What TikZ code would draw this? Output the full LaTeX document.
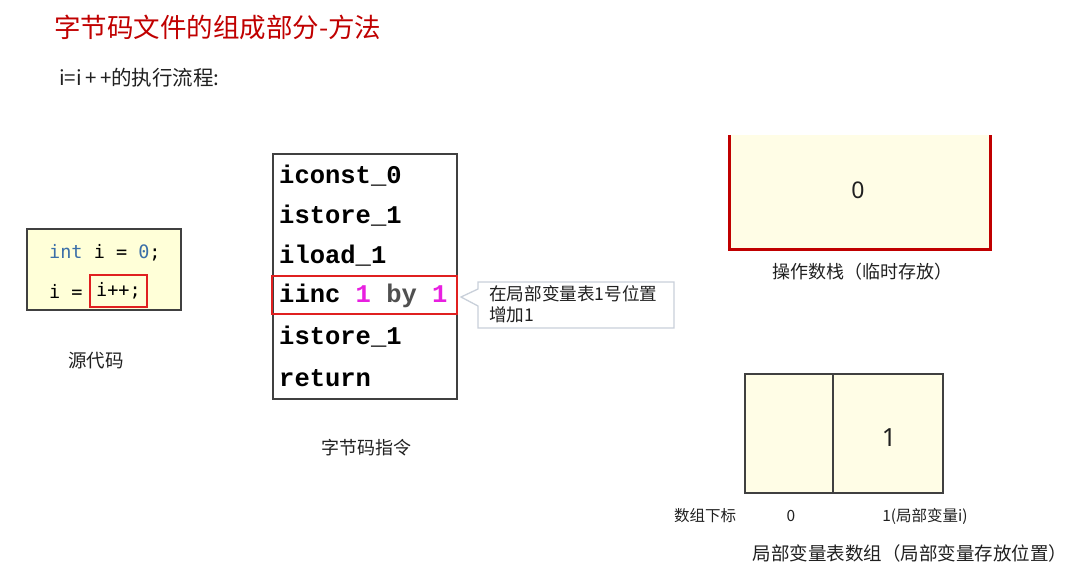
\documentclass[tikz,border=0pt]{standalone}
\usepackage{fontspec}
\setmainfont{Noto Sans CJK SC}
\newfontfamily\codefont{Liberation Mono}
\newfontfamily\srcfont{DejaVu Sans Mono}
\newfontfamily\digitfont{Noto Sans}
\definecolor{titlered}{HTML}{C00000}
\definecolor{stackred}{HTML}{C00000}
\definecolor{boxred}{HTML}{E02020}
\definecolor{paleyellow}{HTML}{FFFDE6}
\definecolor{srcyellow}{HTML}{FFFFD8}
\definecolor{kwblue}{HTML}{3B6FA8}
\definecolor{magentanum}{HTML}{E81FE0}
\definecolor{bygray}{HTML}{505050}
\definecolor{callgray}{HTML}{C9D0DA}
\definecolor{frame}{HTML}{404040}
\definecolor{txt}{HTML}{202020}
\tikzset{
  lbl/.style={font=\fontsize{18}{21}\selectfont, text=txt, inner sep=0pt},
  small/.style={font=\fontsize{15.5}{18}\selectfont, text=txt, inner sep=0pt},
  code/.style={font=\codefont\bfseries\fontsize{25.5}{28}\selectfont, anchor=west, inner sep=0pt, text=black},
  src/.style={font=\srcfont\fontsize{18.5}{22}\selectfont, anchor=west, inner sep=0pt, text=black},
  big/.style={font=\digitfont\fontsize{25}{28}\selectfont, text=txt, inner sep=0pt},
}
\begin{document}
\begin{tikzpicture}[x=1pt,y=-1pt]
\useasboundingbox (0,0) rectangle (1078,573);
% title
\node[anchor=west, inner sep=0pt, text=titlered, font=\fontsize{26.5}{30}\selectfont] (title) at (54,27) {字节码文件的组成部分-方法};
\node[anchor=west, inner sep=0pt, text=txt, font=\fontsize{20.5}{24}\selectfont] (sub) at (59,78) {i=i\,+\,+的执行流程:};
% source code box
\draw[frame, line width=1.4pt, fill=srcyellow] (27,229) rectangle (181,310);
\node[src] (l1) at (49,253) {{\color{kwblue}int} i = {\color{kwblue}0};};
\node[src] (l2) at (49,291) {i =};
\node[src, anchor=center, draw=boxred, line width=1.6pt, minimum width=57pt, minimum height=32pt] (ipp) at (118.5,291) {i++;};
\node[lbl, font=\fontsize{18.5}{21}\selectfont] (srclbl) at (96,361) {源代码};
% bytecode box
\draw[frame, line width=1.3pt, fill=white] (273,154) rectangle (457,399);
\node[code] (b1) at (279,176) {iconst\_0};
\node[code] (b2) at (279,216) {istore\_1};
\node[code] (b3) at (279,256) {iload\_1};
\node[code] (b4) at (279,296) {iinc {\color{magentanum}1} {\color{bygray}by} {\color{magentanum}1}};
\node[code] (b5) at (279,337) {istore\_1};
\node[code] (b6) at (279,378) {return};
\node[draw=boxred, line width=1.6pt, minimum width=185pt, minimum height=38pt, inner sep=0pt] (iincbox) at (364.5,295) {};
\node[lbl] (bclbl) at (366,448) {字节码指令};
% callout
\draw[callgray, line width=1.3pt, fill=white] (478,282) -- (674,282) -- (674,328) -- (478,328) -- (478,306) -- (461,297) -- (478,289) -- cycle;
\node[anchor=north west, inner sep=0pt, text=txt, font=\fontsize{17.6}{21}\selectfont, align=left] (note) at (489,285) {在局部变量表1号位置\\增加1};
% operand stack
\fill[paleyellow] (728,135) rectangle (992,250);
\draw[stackred, line width=3pt] (729.5,135) -- (729.5,249.5) -- (990.5,249.5) -- (990.5,135);
\node[big, font=\digitfont\fontsize{23}{26}\selectfont] (zero) at (858,190) {0};
\node[lbl] (stacklbl) at (862,272) {操作数栈（临时存放）};
% local variable table
\draw[frame, line width=1.2pt, fill=paleyellow] (745,374) rectangle (943,493);
\draw[frame, line width=1.2pt] (833,374) -- (833,493);
\node[big] (one) at (889,438) {1};
\node[small] (idx) at (705,516) {数组下标};
\node[small] (idx0) at (791,516) {0};
\node[small] (idx1) at (925,516) {1(局部变量i)};
\node[lbl, font=\fontsize{18.5}{21}\selectfont] (tbllbl) at (910,553) {局部变量表数组（局部变量存放位置）};
\end{tikzpicture}
\end{document}
